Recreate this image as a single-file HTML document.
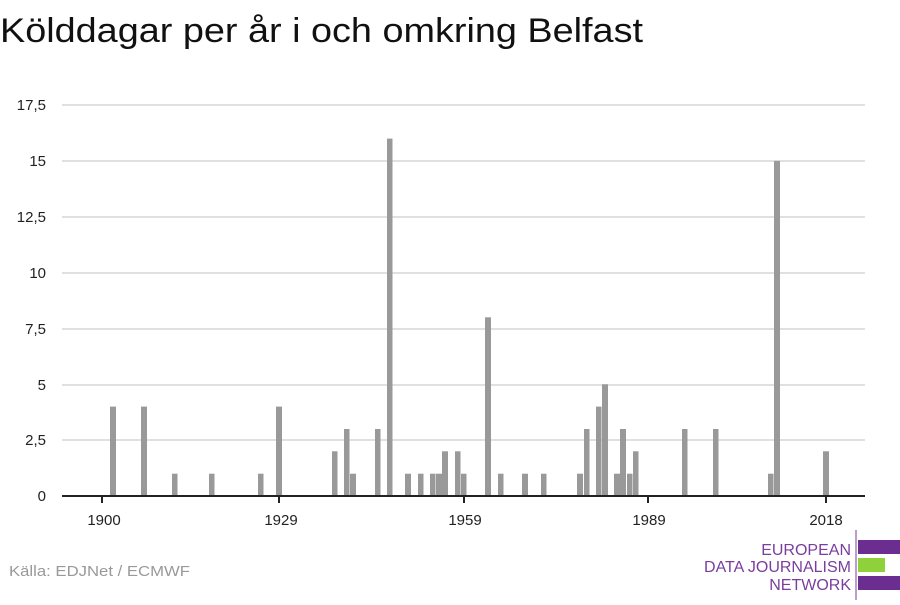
<!DOCTYPE html>
<html><head><meta charset="utf-8"><style>
body{margin:0;background:#fff;width:900px;height:600px;overflow:hidden;font-family:"Liberation Sans",sans-serif}
</style></head><body>
<svg width="900" height="600" xmlns="http://www.w3.org/2000/svg" font-family="Liberation Sans, sans-serif">
<text x="0" y="42" font-size="34" fill="#111" textLength="643" lengthAdjust="spacingAndGlyphs">Kölddagar per år i och omkring Belfast</text>
<g stroke="#e0e0e0" stroke-width="2">
<line x1="62" x2="865" y1="105" y2="105"/><line x1="62" x2="865" y1="161" y2="161"/>
<line x1="62" x2="865" y1="217" y2="217"/><line x1="62" x2="865" y1="273" y2="273"/>
<line x1="62" x2="865" y1="329" y2="329"/><line x1="62" x2="865" y1="385" y2="385"/>
<line x1="62" x2="865" y1="440" y2="440"/>
</g>
<g font-size="15" fill="#222" text-anchor="end">
<text x="46" y="110">17,5</text><text x="46" y="166">15</text><text x="46" y="222">12,5</text>
<text x="46" y="278">10</text><text x="46" y="334">7,5</text><text x="46" y="390">5</text>
<text x="46" y="445">2,5</text><text x="46" y="501">0</text>
</g>
<g fill="#999">
<rect x="110" y="406.6" width="6" height="89.4"/>
<rect x="141" y="406.6" width="6" height="89.4"/>
<rect x="172" y="473.7" width="5.5" height="22.3"/>
<rect x="209" y="473.7" width="5.5" height="22.3"/>
<rect x="258" y="473.7" width="5.5" height="22.3"/>
<rect x="276" y="406.6" width="6" height="89.4"/>
<rect x="332" y="451.3" width="5.5" height="44.7"/>
<rect x="344" y="429" width="5.5" height="67"/>
<rect x="350" y="473.7" width="6" height="22.3"/>
<rect x="375" y="429" width="5.5" height="67"/>
<rect x="387" y="138.6" width="5.5" height="357.4"/>
<rect x="405" y="473.7" width="6" height="22.3"/>
<rect x="418" y="473.7" width="5.5" height="22.3"/>
<rect x="430" y="473.7" width="5.5" height="22.3"/>
<rect x="436" y="473.7" width="6" height="22.3"/>
<rect x="442" y="451.3" width="6" height="44.7"/>
<rect x="455" y="451.3" width="5.5" height="44.7"/>
<rect x="461" y="473.7" width="5.5" height="22.3"/>
<rect x="485" y="317.3" width="6" height="178.7"/>
<rect x="498" y="473.7" width="5.5" height="22.3"/>
<rect x="522" y="473.7" width="6" height="22.3"/>
<rect x="541" y="473.7" width="5.5" height="22.3"/>
<rect x="577" y="473.7" width="6" height="22.3"/>
<rect x="584" y="429" width="5.5" height="67"/>
<rect x="596" y="406.6" width="5.5" height="89.4"/>
<rect x="602" y="384.3" width="6" height="111.7"/>
<rect x="614" y="473.7" width="6" height="22.3"/>
<rect x="620" y="429" width="6" height="67"/>
<rect x="627" y="473.7" width="5.5" height="22.3"/>
<rect x="633" y="451.3" width="5.5" height="44.7"/>
<rect x="682" y="429" width="5.5" height="67"/>
<rect x="713" y="429" width="5.5" height="67"/>
<rect x="768" y="473.7" width="5.5" height="22.3"/>
<rect x="774" y="160.9" width="6" height="335.1"/>
<rect x="823" y="451.3" width="6" height="44.7"/>
</g>
<g stroke="#222" stroke-width="2">
<line x1="62" x2="865" y1="496" y2="496"/>
<line x1="102" x2="102" y1="496" y2="503"/><line x1="279" x2="279" y1="496" y2="503"/>
<line x1="464" x2="464" y1="496" y2="503"/><line x1="648" x2="648" y1="496" y2="503"/>
<line x1="826" x2="826" y1="496" y2="503"/>
</g>
<g font-size="15" fill="#222" text-anchor="middle">
<text x="104" y="525">1900</text><text x="281" y="525">1929</text><text x="465" y="525">1959</text>
<text x="649" y="525">1989</text><text x="826" y="525">2018</text>
</g>
<text x="9" y="576" font-size="15" fill="#999" textLength="181" lengthAdjust="spacingAndGlyphs">Källa: EDJNet / ECMWF</text>
<g font-size="16" fill="#7a3e9d" text-anchor="end">
<text x="851" y="555">EUROPEAN</text><text x="851" y="572">DATA JOURNALISM</text><text x="851" y="590">NETWORK</text>
</g>
<line x1="856" x2="856" y1="530" y2="600" stroke="#7a3e9d" stroke-width="1"/>
<rect x="858" y="540" width="42" height="14" fill="#6b2d8f"/>
<rect x="858" y="558" width="27" height="14" fill="#8fd13b"/>
<rect x="858" y="576" width="42" height="14" fill="#6b2d8f"/>
</svg>
</body></html>
